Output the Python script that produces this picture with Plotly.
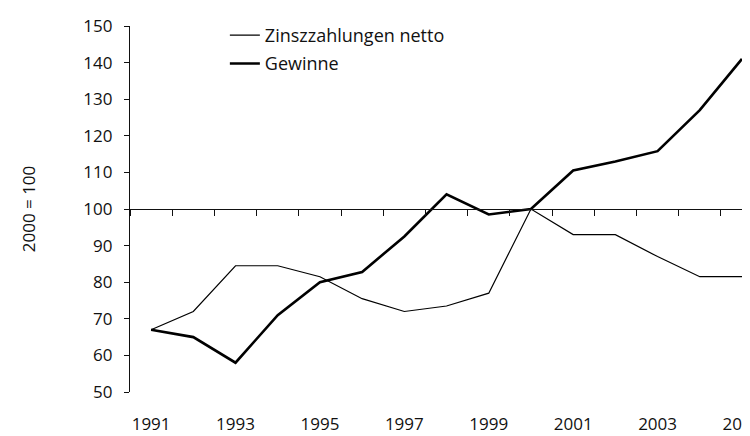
import plotly.graph_objects as go

years = list(range(1991, 2006))
zins = [67, 72, 84.5, 84.5, 81.5, 75.5, 72, 73.5, 77, 100, 93, 93, 87, 81.5, 81.5]
gewinne = [67, 65, 58, 71, 80, 82.8, 92.5, 104, 98.5, 100, 110.5, 113, 115.8, 127, 141]
label_years = [1991, 1993, 1995, 1997, 1999, 2001, 2003, 2005]
tick_between = [y + 0.5 for y in range(1990, 2006)]

FONT = "Open Sans, Roboto, sans-serif"
xr = [1990.5, 2005.19]

fig = go.Figure()
fig.add_trace(go.Scatter(x=years, y=zins, mode="lines", name="Zinszzahlungen netto",
                         line=dict(color="black", width=1.2), legendgroup="a"))
fig.add_trace(go.Scatter(x=years, y=gewinne, mode="lines", name="Gewinne",
                         line=dict(color="black", width=2.6), legendgroup="b", xaxis="x2"))

fig.update_layout(
    width=742, height=428,
    margin=dict(l=122, r=0, t=18, b=44),
    paper_bgcolor="white", plot_bgcolor="white",
    font=dict(family=FONT, size=17, color="#111"),
    xaxis=dict(range=xr, tickvals=label_years, ticktext=[str(y) for y in label_years],
               showline=False, showgrid=False, zeroline=False, ticks="",
               ticklabelstandoff=20, automargin=False, ticklabeloverflow="allow",
               tickfont=dict(size=17)),
    xaxis2=dict(range=xr, overlaying="x", anchor="free", position=0.5, side="bottom",
                showline=True, linecolor="#111", linewidth=1.3, showgrid=False, zeroline=False,
                ticks="outside", ticklen=6, tickcolor="#111", tickwidth=1,
                tickvals=tick_between, showticklabels=False, automargin=False),
    yaxis=dict(range=[50, 150], tickvals=list(range(50, 151, 10)),
               showline=True, linecolor="#111", linewidth=1.3, showgrid=False, zeroline=False,
               ticks="outside", ticklen=5, tickcolor="#111", tickwidth=1,
               ticklabelstandoff=8, automargin=False,
               tickfont=dict(size=17),
               title=dict(text="2000 = 100", font=dict(size=17), standoff=43)),
    showlegend=True,
    legend=dict(x=0.153, y=1.025, xanchor="left", yanchor="top", bgcolor="rgba(0,0,0,0)",
                font=dict(size=18), tracegroupgap=2, traceorder="grouped"),
)

fig.write_html("out.html")
